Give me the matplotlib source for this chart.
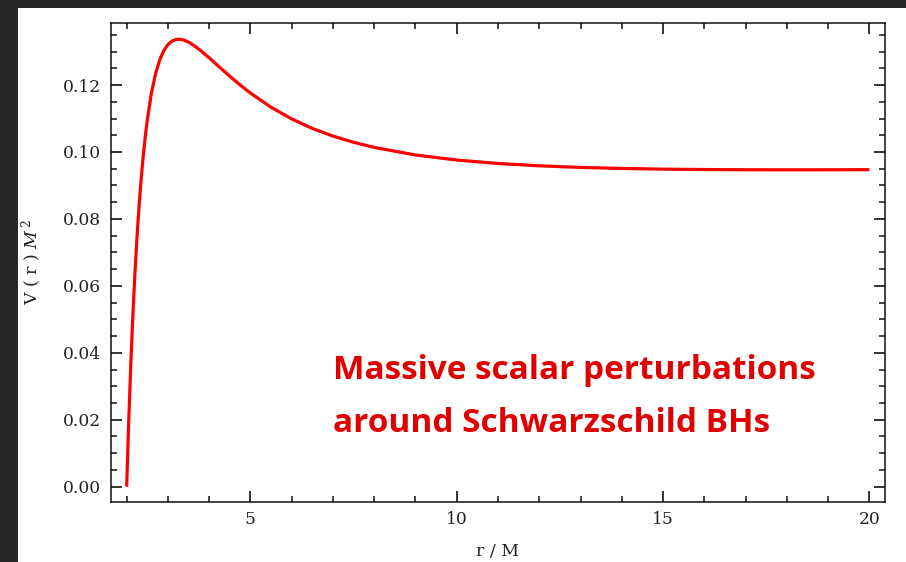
import matplotlib.pyplot as plt
from matplotlib.patches import Rectangle
from matplotlib.ticker import MultipleLocator

# radial coordinate r/M and effective potential V(r) M^2
r_vals = [2.0, 2.05, 2.1, 2.15, 2.2, 2.25, 2.3, 2.35, 2.4, 2.45, 2.5, 2.6, 2.7,
          2.8, 2.9, 3.0, 3.1, 3.2, 3.3, 3.4, 3.5, 3.6, 3.8, 4.0, 4.25, 4.5,
          4.75, 5.0, 5.5, 6.0, 6.5, 7.0, 7.5, 8.0, 9.0, 10.0, 11.0, 12.0,
          13.0, 14.0, 15.0, 16.0, 17.0, 18.0, 19.0, 20.0]
v_vals = [0.0, 0.01971, 0.03664, 0.05120, 0.06373, 0.07452, 0.08380, 0.09178,
          0.09865, 0.10455, 0.10960, 0.11761, 0.12340, 0.12749, 0.13029,
          0.13210, 0.13315, 0.13363, 0.13366, 0.13337, 0.13282, 0.13208,
          0.13024, 0.12813, 0.12535, 0.12262, 0.12002, 0.11760, 0.11336,
          0.10988, 0.10704, 0.10475, 0.10289, 0.10137, 0.09911, 0.09760,
          0.09657, 0.09587, 0.09540, 0.09508, 0.09488, 0.09476, 0.09470,
          0.09468, 0.09469, 0.09473]

x_ticks = [5, 10, 15, 20]
y_ticks = [0.00, 0.02, 0.04, 0.06, 0.08, 0.10, 0.12]

plt.rcParams['mathtext.fontset'] = 'dejavuserif'

W, H = 906, 562
fig = plt.figure(figsize=(W / 100, H / 100), dpi=100, facecolor='#272727')
# white slide panel on the dark background
fig.patches.append(Rectangle((18 / W, 0), 1 - 18 / W, 1 - 8 / H,
                             transform=fig.transFigure, facecolor='white',
                             edgecolor='none', zorder=-10))

ax = fig.add_axes([111 / W, 1 - 501.5 / H, 774 / W, 478.5 / H])
ax.set_zorder(1)
ax.plot(r_vals, v_vals, color='#ff0000', lw=2.3, solid_capstyle='butt')

ax.set_xlim(1.62, 20.38)
ax.set_ylim(-0.00442, 0.13854)
ax.set_xticks(x_ticks)
ax.set_yticks(y_ticks)
ax.set_yticklabels([f'{v:.2f}' for v in y_ticks])
ax.xaxis.set_minor_locator(MultipleLocator(1))
ax.yaxis.set_minor_locator(MultipleLocator(0.005))

tick_font = dict(family='DejaVu Serif', size=12.5, color='#222222')
for lab in ax.get_xticklabels() + ax.get_yticklabels():
    lab.set_fontfamily('DejaVu Serif')
    lab.set_fontsize(12.3)
    lab.set_color('#222222')

ax.tick_params(which='both', direction='in', top=True, right=True, color='#111111')
ax.tick_params(which='major', length=8, width=1.2, pad=7)
ax.tick_params(which='minor', length=4.5, width=1.1)
for sp in ax.spines.values():
    sp.set_linewidth(1.1)
    sp.set_color('#111111')

ax.set_xlabel('r / M', **tick_font)
ax.xaxis.set_label_coords(0.5, -0.086)
ax.set_ylabel('V ( r ) $M^{\\,2}$', **tick_font)
ax.yaxis.set_label_coords(-0.087, 0.5)

fig.text(333 / W, 1 - 379 / H, 'Massive scalar perturbations',
         family='Open Sans', weight='bold', size=24, color='#e00000',
         va='baseline', ha='left', zorder=5)
fig.text(333 / W, 1 - 432 / H, 'around Schwarzschild BHs',
         family='Open Sans', weight='bold', size=24, color='#e00000',
         va='baseline', ha='left', zorder=5)

fig.savefig('out.png', dpi=100, facecolor=fig.get_facecolor())
